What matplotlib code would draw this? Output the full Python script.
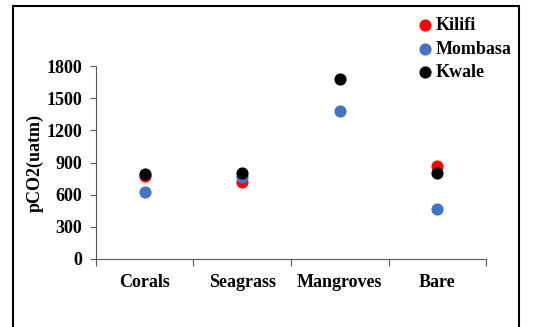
import numpy as np
import matplotlib.pyplot as plt
from matplotlib.patches import Rectangle

plt.rcParams['font.family'] = ['Liberation Serif', 'DejaVu Serif']
plt.rcParams['font.weight'] = 'bold'

# data
habitats = ['Corals', 'Seagrass', 'Mangroves', 'Bare']
kilifi = [777, 721, np.nan, 870]
mombasa = [628, 768, 1377, 463]
kwale = [795, 805, 1679, 802]

fig = plt.figure(figsize=(5.58, 3.27), dpi=100)
ax = fig.add_axes([0.172, 0.208, 0.699, 0.590])

x = np.arange(len(habitats)) + 0.5
ax.scatter(x, kilifi, s=60, color='#FF0000', label='Kilifi', zorder=3)
ax.scatter(x, mombasa, s=60, color='#4472C4', label='Mombasa', zorder=3)
ax.scatter(x, kwale, s=60, color='#000000', label='Kwale', zorder=4)

ax.set_xlim(0, 4)
ax.set_ylim(0, 1800)
ax.set_yticks(np.arange(0, 1801, 300))
ax.set_xticks(np.arange(0, 5))
ax.set_xticklabels([])
ax.set_xticks(x, minor=True)
ax.set_xticklabels(habitats, minor=True, fontsize=13, fontweight='bold')
ax.tick_params(axis='x', which='minor', length=0, pad=11)
ax.tick_params(axis='x', which='major', length=5, direction='out', color='#595959')
ax.tick_params(axis='y', length=4, direction='out', color='#595959', labelsize=13, pad=6)
for lab in ax.get_yticklabels():
    lab.set_fontweight('bold')

ax.spines['top'].set_visible(False)
ax.spines['right'].set_visible(False)
ax.spines['left'].set_color('#595959')
ax.spines['bottom'].set_color('#595959')
ax.set_ylabel('pCO2(uatm)', fontsize=13, fontweight='bold', labelpad=2)

fig.legend(loc='upper left', bbox_to_anchor=(0.713, 0.997), frameon=False,
           handletextpad=0.0, handlelength=1.2, labelspacing=0.35,
           prop={'size': 13, 'weight': 'bold'}, markerscale=1.0)

# outer frame
fig.patches.append(Rectangle((13 / 558, -0.05), (519 - 13) / 558, 1.05 - 6 / 327,
                             transform=fig.transFigure, fill=False,
                             edgecolor='black', linewidth=1.5, clip_on=False))

fig.savefig('out.png', dpi=100)
